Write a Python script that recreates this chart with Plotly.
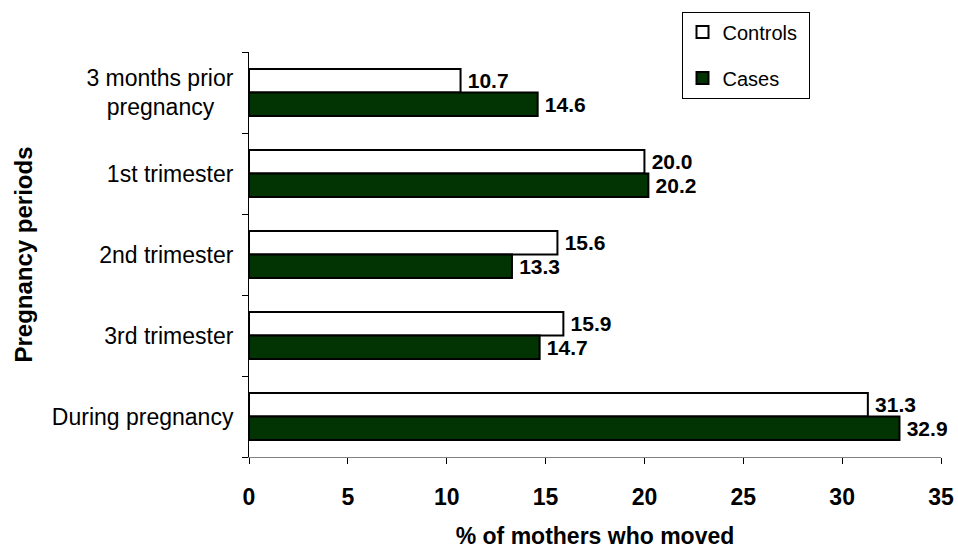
import plotly.graph_objects as go

# periods, top to bottom
periods = ["3 months prior pregnancy", "1st trimester", "2nd trimester", "3rd trimester", "During pregnancy"]
period_labels = ["3 months prior<br>pregnancy\u00a0\u00a0\u00a0", "1st trimester", "2nd trimester", "3rd trimester", "During pregnancy"]
controls = [10.7, 20.0, 15.6, 15.9, 31.3]
cases = [14.6, 20.2, 13.3, 14.7, 32.9]

FONT = "Arial, Liberation Sans, sans-serif"
GREEN = "#023302"

label_font = dict(family=FONT, size=21, color="black", weight="bold")

fig = go.Figure()

fig.add_trace(go.Bar(
    y=periods, x=controls, orientation="h", name="Controls\u00a0", legendgroup="a",
    marker=dict(color="white", line=dict(color="black", width=2)),
    texttemplate="\u2009%{x:.1f}", textposition="outside", constraintext="none", cliponaxis=False,
    textfont=label_font,
))
fig.add_trace(go.Bar(
    y=periods, x=cases, orientation="h", name="Cases", legendgroup="b",
    marker=dict(color=GREEN, line=dict(color="black", width=2)),
    texttemplate="\u2009%{x:.1f}", textposition="outside", constraintext="none", cliponaxis=False,
    textfont=label_font,
))

fig.update_layout(
    width=958, height=549,
    margin=dict(l=249, r=17, t=45, b=92),
    paper_bgcolor="white", plot_bgcolor="white",
    font=dict(family=FONT, color="black"),
    barmode="group", bargap=0.42, bargroupgap=0,
    showlegend=True,
    legend=dict(
        x=0.625, y=1.1, xanchor="left", yanchor="top",
        bgcolor="white", bordercolor="black", borderwidth=1,
        font=dict(size=20, family=FONT), traceorder="grouped", tracegroupgap=17,
        itemwidth=30,
    ),
    xaxis=dict(
        range=[0, 35], dtick=5, tick0=0, automargin=False,
        showgrid=False, zeroline=False,
        showline=True, linecolor="#808080", linewidth=1,
        ticks="outside", ticklen=6, tickcolor="black",
        tickfont=dict(size=23, family=FONT, weight="bold"),
        ticklabelstandoff=13,
        title=dict(text="% of mothers who moved", font=dict(size=23, family=FONT, weight="bold"), standoff=20),
    ),
    yaxis=dict(
        categoryorder="array", categoryarray=periods, autorange="reversed", automargin=False,
        tickmode="array", tickvals=periods, ticktext=period_labels,
        showgrid=False, zeroline=False,
        showline=True, linecolor="black", linewidth=1,
        ticks="outside", ticklen=6, tickcolor="black", tickson="boundaries",
        tickfont=dict(size=23, family=FONT),
        ticklabelstandoff=10,
        title=dict(text="Pregnancy periods", font=dict(size=24, family=FONT, weight="bold"), standoff=12),
    ),
)

fig.write_html("out.html", config={"displayModeBar": False},
               post_script="document.body.style.margin='0px';")
